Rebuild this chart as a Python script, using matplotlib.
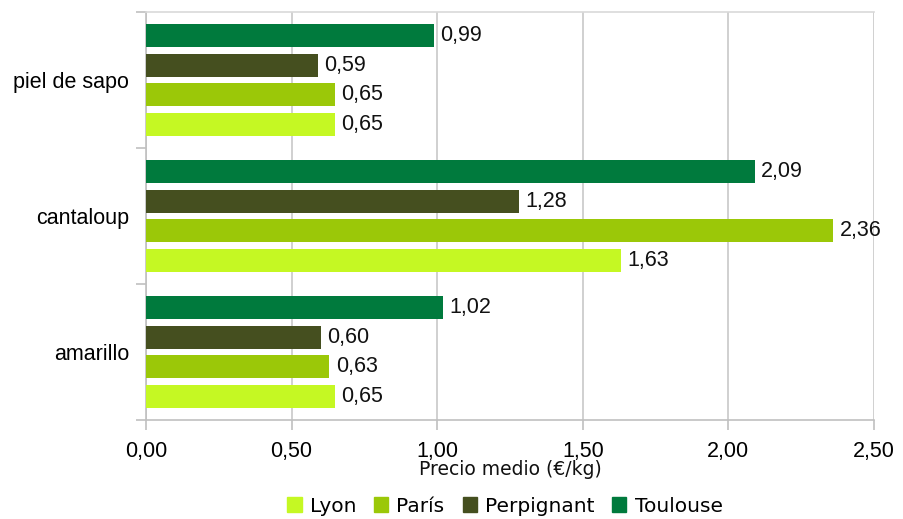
import matplotlib
matplotlib.use("Agg")
import matplotlib.pyplot as plt
import numpy as np
from matplotlib.patches import Patch

categories = ["amarillo", "cantaloup", "piel de sapo"]
series = ["Lyon", "París", "Perpignant", "Toulouse"]
lyon = [0.65, 1.63, 0.65]
paris = [0.63, 2.36, 0.65]
perpignant = [0.60, 1.28, 0.59]
toulouse = [1.02, 2.09, 0.99]
values = [lyon, paris, perpignant, toulouse]
colors = ["#c5f823", "#9bc808", "#454f1f", "#007a3d"]
xticks = [0.0, 0.5, 1.0, 1.5, 2.0, 2.5]

num_font = "Liberation Sans"
alt_font = "DejaVu Sans"

fig = plt.figure(figsize=(9.04, 5.19), dpi=100)
ax = fig.add_axes([146/904, 1-420/519, (874-146)/904, (420-12)/519])

y = np.arange(len(categories))
pitch = 0.218
h = 0.17
for i, (vals, c) in enumerate(zip(values, colors)):
    off = (i - 1.5) * pitch
    bars = ax.barh(y + off, vals, height=h, color=c, zorder=3)
    for b, v in zip(bars, vals):
        ax.annotate(f"{v:.2f}".replace(".", ","), (v, b.get_y() + b.get_height()/2),
                    xytext=(4.5, 0), textcoords="offset points", va="center", ha="left",
                    fontsize=15.5, family=num_font, color="#111111")

ax.set_xlim(0, 2.5)
ax.set_ylim(-0.5, 2.5)
ax.set_xticks(xticks)
ax.set_xticklabels([f"{t:.2f}".replace(".", ",") for t in xticks], fontsize=15.5, family=num_font)
ax.set_yticks(y)
ax.set_yticklabels(categories, fontsize=15.5, family=num_font)
ax.set_yticks([-0.5, 0.5, 1.5, 2.5], minor=True)
ax.tick_params(axis="y", which="major", length=0, pad=12)
ax.tick_params(axis="y", which="minor", length=7, color="#c0c0c0", width=1.2, direction="out")
ax.tick_params(axis="x", length=7, color="#c0c0c0", width=1.2, direction="out", pad=8)
ax.grid(axis="x", color="#c8c8c8", linewidth=1.2, zorder=0)
for s in ["left", "bottom"]:
    ax.spines[s].set_color("#c0c0c0")
    ax.spines[s].set_linewidth(1.2)
ax.spines["top"].set_color("#d9d9d9")
ax.spines["top"].set_linewidth(1.2)
ax.spines["right"].set_visible(False)

ax.set_xlabel("Precio medio (€/kg)", fontsize=13.5, family=alt_font, labelpad=-1, color="#111111")

handles = [Patch(color=c, label=s) for s, c in zip(series, colors)]
fig.legend(handles=handles, loc="center", bbox_to_anchor=(505/904, 1-506/519), ncol=4,
           frameon=False, prop={"family": alt_font, "size": 14.5}, handlelength=0.7,
           handleheight=0.7, handletextpad=0.4, columnspacing=0.9)

fig.savefig("out.png", dpi=100)
